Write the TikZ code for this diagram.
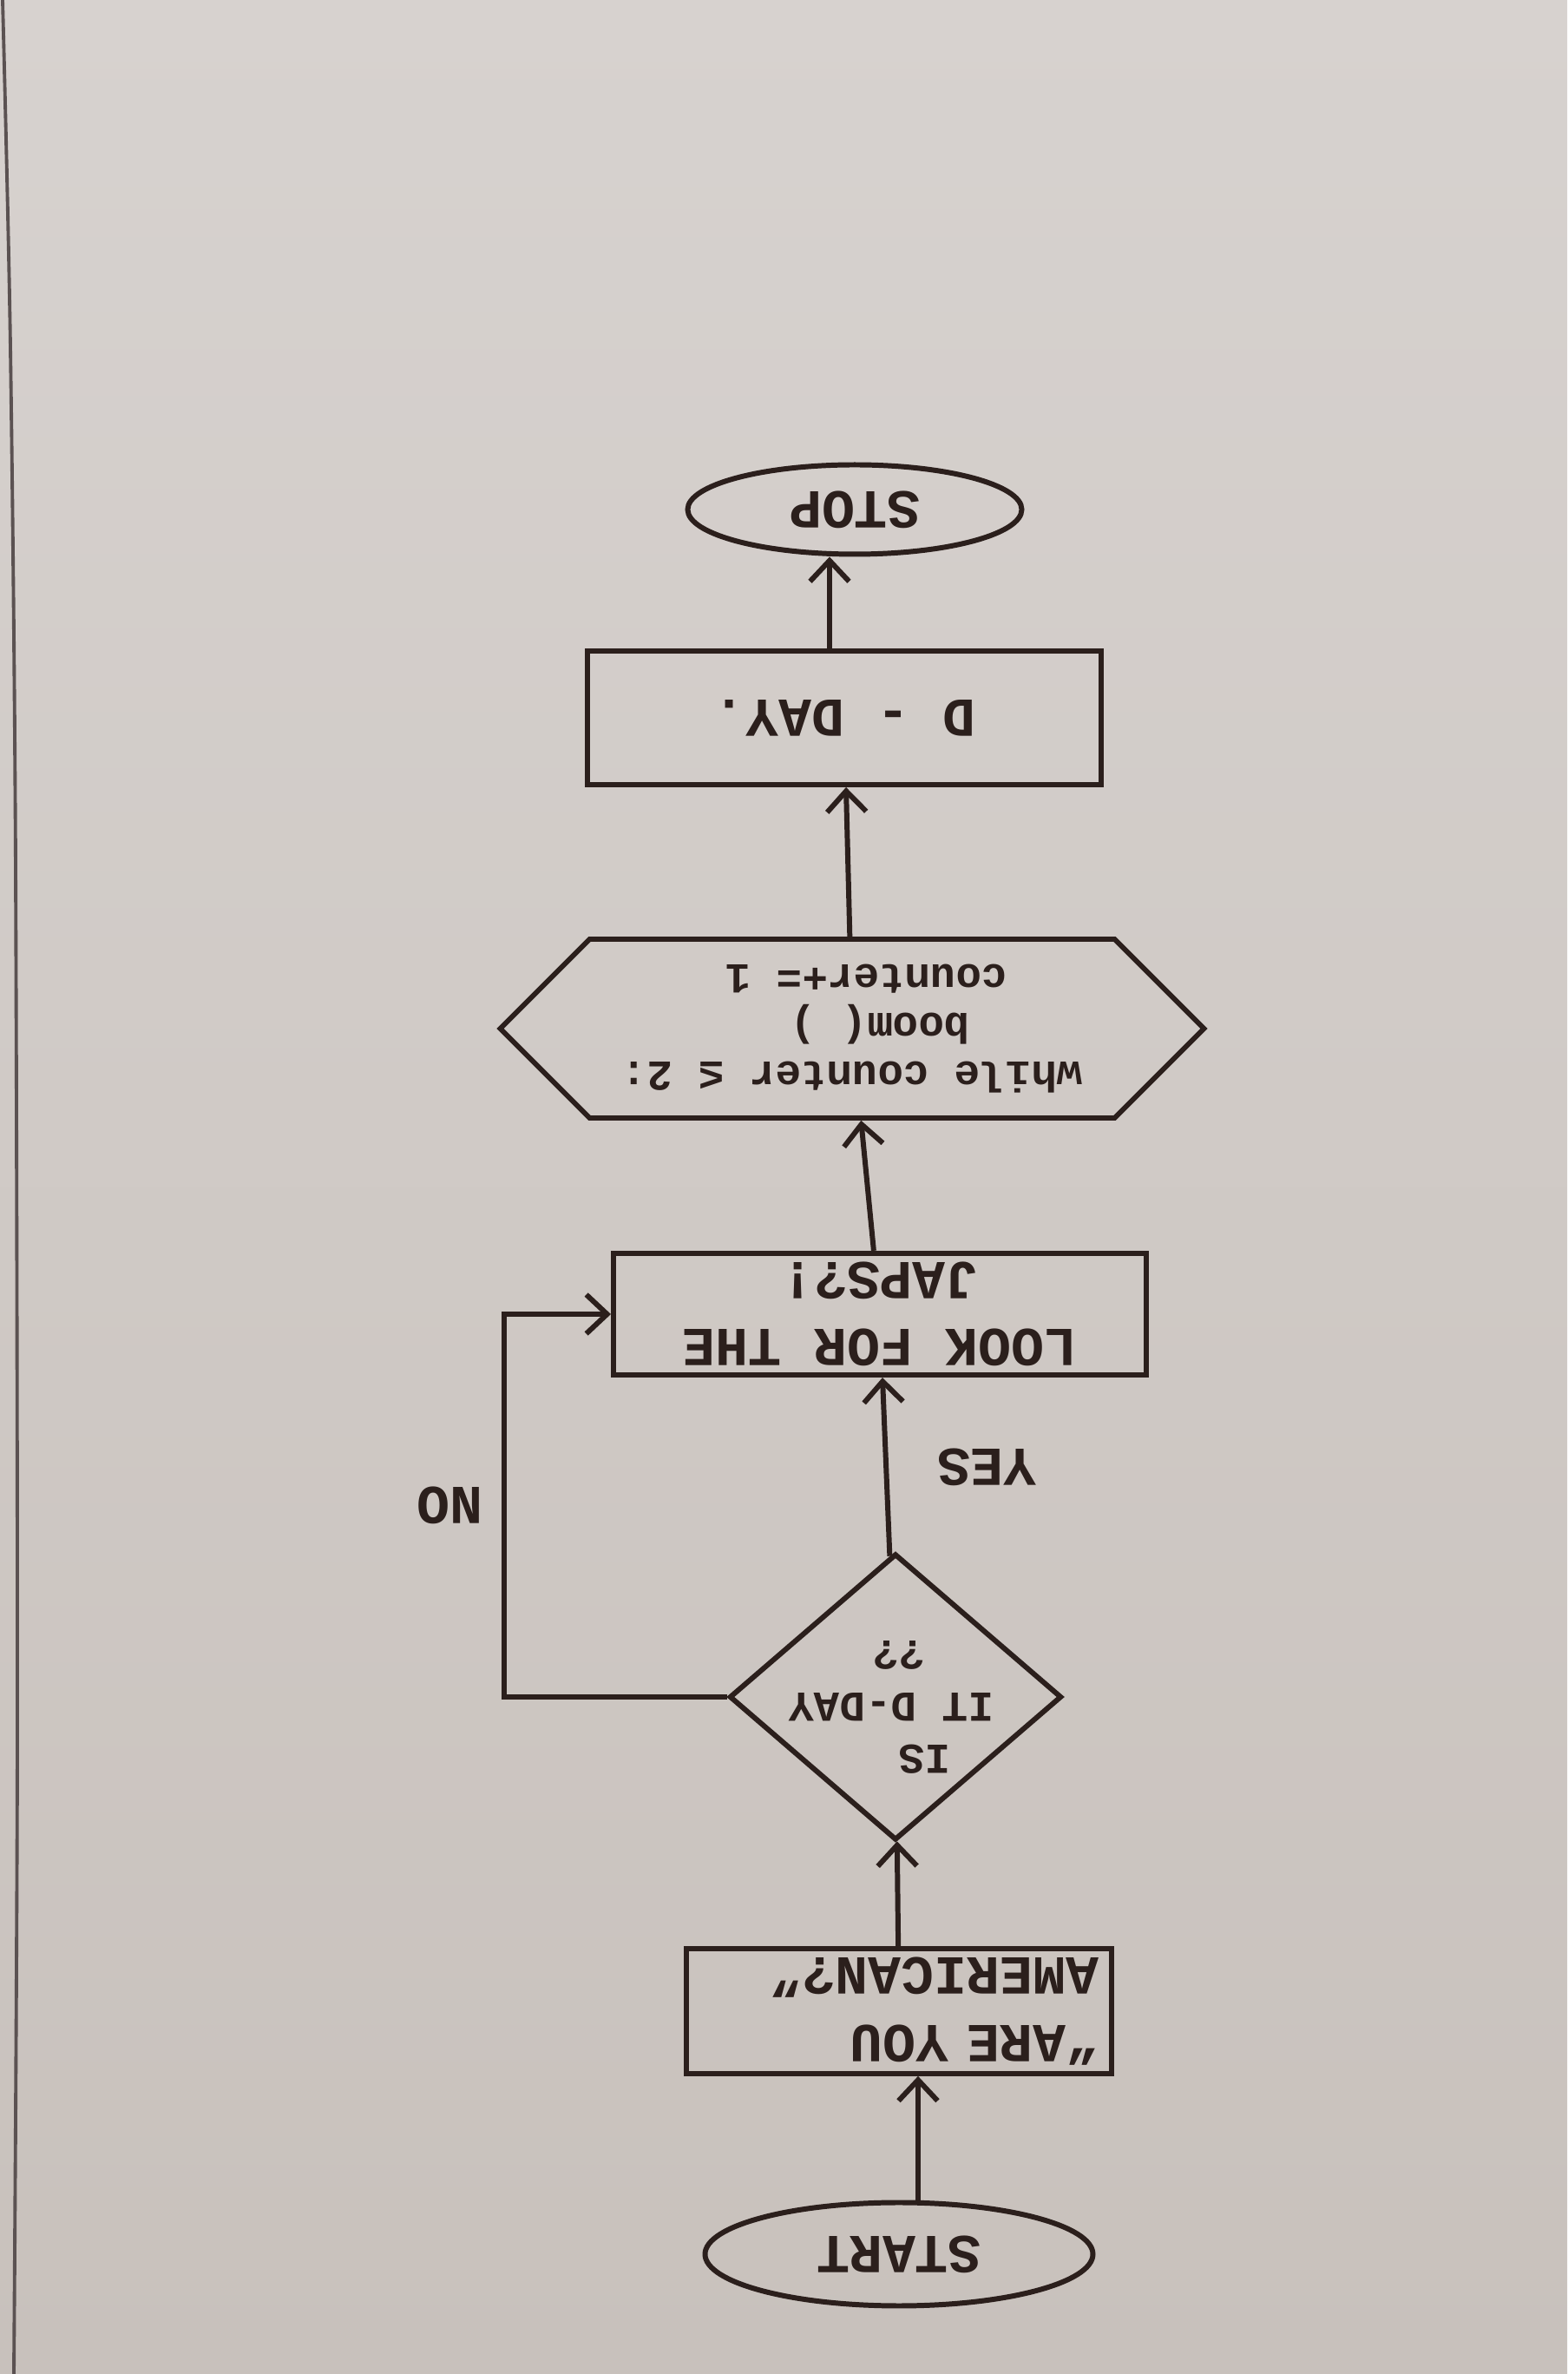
\documentclass[tikz,border=0pt]{standalone}
\usepackage{fontspec}
\usepackage{xcolor}
\usepackage{tikz}
\usetikzlibrary{arrows.meta, shapes.geometric, shapes.symbols}
\newfontfamily\handfont{Liberation Mono}
\definecolor{ink}{HTML}{2B1F1C}
\definecolor{papertop}{HTML}{D7D2CF}
\definecolor{paperbot}{HTML}{C8C1BC}
\definecolor{pageedge}{HTML}{5B5252}
\tikzset{
	term/.style={ellipse, draw=ink, line width=1.7pt, inner sep=0pt,
		font=\handfont\bfseries\fontsize{18}{22}\selectfont, text=ink},
	proc/.style={rectangle, draw=ink, line width=1.7pt, align=center,
		inner sep=0.1cm, font=\handfont\bfseries\fontsize{18}{22}\selectfont, text=ink},
	deci/.style={diamond, draw=ink, line width=1.7pt, inner sep=0pt},
	loopbox/.style={signal, signal to=east and west, signal pointer angle=90,
		draw=ink, line width=1.7pt, inner sep=2pt, align=left,
		font=\handfont\bfseries\fontsize{14}{16}\selectfont, text=ink},
	tag/.style={font=\handfont\bfseries\fontsize{18}{22}\selectfont, text=ink},
	arr/.style={-{Straight Barb[length=2.4mm, width=4.5mm]}, line width=1.7pt, draw=ink},
}

\begin{document}
\begin{tikzpicture}
	\useasboundingbox (0,0) rectangle (18.06,27.35);
	\shade[top color=papertop, bottom color=paperbot] (0,0) rectangle (18.06,27.35);
	\draw[pageedge, line width=1.1pt] plot[smooth] coordinates {(0.03,27.35) (0.12,23.35) (0.18,17.35) (0.20,7.35) (0.16,0)};
	% the sheet lies upside down
	\begin{scope}[rotate around={180:(9.03,13.675)}, transform shape]
		\node[term, minimum width=4.47cm, minimum height=1.19cm] (start) at (7.70,25.97) {START};
		\node[proc, minimum width=4.9cm, minimum height=1.42cm, text width=4.6cm, align=left] (america) at (7.70,23.17) {“ARE YOU\\AMERICAN?”};
		\node[deci, minimum width=3.83cm, minimum height=3.30cm] (dia) at (7.74,19.55) {};
		\node[tag, font=\handfont\bfseries\fontsize{14}{17}\selectfont, align=left] (ask) at ([shift={(0.05,0.12)}]dia.center) {\hspace*{0.5cm}IS\\IT D-DAY\\\hspace*{0.8cm}??};
		\node[proc, minimum width=6.14cm, minimum height=1.33cm] (look) at (7.92,15.14) {LOOK FOR THE\\JAPS?!};
		\node[loopbox, minimum width=8.11cm, minimum height=2.06cm] (loop) at (8.24,11.85) {while counter ≤ 2:\\\hspace*{1.3cm}boom( )\\\hspace*{0.87cm}counter+= 1};
		\node[proc, minimum width=5.92cm, minimum height=1.54cm] (dday) at (8.33,8.27) {D - DAY.};
		\node[term, minimum width=3.85cm, minimum height=1.03cm] (stop) at (8.21,5.87) {STOP};
		\coordinate (noturn) at (12.25,19.55);

		\draw[arr] ([xshift=-0.22cm]start.south) -- ([xshift=-0.22cm]america.north);
		\draw[arr] (america) -- (dia);
		\draw[arr] (dia) -- node[tag, pos=0.5, left=0.45cm] (yes) {YES} (look);
		\draw[arr] (dia.east) -- (noturn) |- node[tag, pos=0.25, right=0.1cm] (no) {NO} (look.east);
		\draw[arr] (look) -- (loop);
		\draw[arr] (loop) -- (dday);
		\draw[arr] ([xshift=0.17cm]dday.south) -- ([xshift=0.29cm]stop.north);
	\end{scope}
\end{tikzpicture}
\end{document}
